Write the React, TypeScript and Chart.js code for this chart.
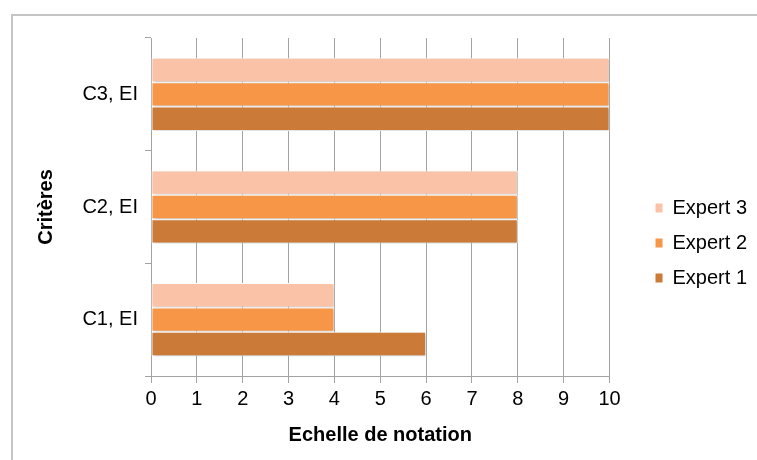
import { useEffect, useRef } from 'react';
import { Chart, registerables } from 'chart.js';

Chart.register(...registerables);

const categories = ['C1, EI', 'C2, EI', 'C3, EI'];
const expert3 = [4, 8, 10];
const expert2 = [4, 8, 10];
const expert1 = [6, 8, 10];
const seriesNames = ['Expert 3', 'Expert 2', 'Expert 1'];
const seriesColors = ['#FAC3A7', '#F79646', '#CC7A37'];
const xMin = 0;
const xMax = 10;
const xTitle = 'Echelle de notation';
const yTitle = 'Critères';

const FONT = "'Liberation Sans', Arial, sans-serif";
const GRID = '#a3a3a3';

const shadowPlugin = {
  id: 'barShadow',
  beforeDatasetsDraw(chart: any) {
    const c = chart.ctx;
    c.save();
    c.shadowColor = 'rgba(0,0,0,0.22)';
    c.shadowBlur = 3;
    c.shadowOffsetX = 1;
    c.shadowOffsetY = 1.5;
  },
  afterDatasetsDraw(chart: any) {
    chart.ctx.restore();
  },
};

export default function App() {
  const ref = useRef<HTMLCanvasElement | null>(null);

  useEffect(() => {
    if (!ref.current) return;
    const values = [expert3, expert2, expert1];
    const chart = new Chart(ref.current, {
      type: 'bar',
      data: {
        labels: categories,
        datasets: seriesNames.map((name, i) => ({
          label: name,
          data: values[i],
          backgroundColor: seriesColors[i],
          borderColor: '#ffffff',
          borderWidth: 1,
          borderSkipped: false,
          categoryPercentage: 0.65,
          barPercentage: 1.0,
        })),
      },
      options: {
        indexAxis: 'y',
        animation: false,
        responsive: false,
        maintainAspectRatio: false,
        devicePixelRatio: 1,
        layout: { padding: { left: 0, top: 38, right: 23, bottom: 12 } },
        plugins: {
          legend: {
            position: 'right',
            align: 'center',
            labels: {
              boxWidth: 7,
              boxHeight: 9,
              padding: 15,
              color: '#000',
              font: { family: FONT, size: 20 },
              generateLabels: (ch: any) =>
                (Chart.defaults.plugins.legend.labels as any)
                  .generateLabels(ch)
                  .map((l: any) => ({ ...l, lineWidth: 0, strokeStyle: 'rgba(0,0,0,0)' })),
            },
          },
          tooltip: { enabled: false },
        },
        scales: {
          x: {
            type: 'linear',
            min: xMin,
            max: xMax,
            ticks: { stepSize: 1, color: '#000', padding: 4, font: { family: FONT, size: 20 } },
            grid: { color: GRID, drawOnChartArea: true, drawTicks: true, tickLength: 7, lineWidth: 1 },
            border: { display: true, color: GRID, width: 1 },
            title: {
              display: true,
              text: xTitle,
              color: '#000',
              font: { family: FONT, size: 20, weight: 'bold' },
              padding: { top: 0, bottom: 1 },
            },
            afterFit: (s: any) => {
              s.height = 72;
            },
          },
          y: {
            type: 'category',
            reverse: true,
            ticks: { color: '#000', padding: 7, font: { family: FONT, size: 20 } },
            grid: { color: GRID, offset: true, drawOnChartArea: false, drawTicks: true, tickLength: 6 },
            border: { display: true, color: GRID, width: 1 },
            title: {
              display: true,
              text: yTitle,
              color: '#000',
              font: { family: FONT, size: 20, weight: 'bold' },
              padding: { top: 34, bottom: 0 },
            },
            afterFit: (s: any) => {
              s.width = 151;
            },
          },
          pad: {
            type: 'linear',
            position: 'right',
            display: true,
            grid: { display: false },
            border: { display: false },
            ticks: { display: false },
            afterFit: (s: any) => {
              s.width = 31;
            },
          },
        },
      } as any,
      plugins: [shadowPlugin],
    });
    return () => chart.destroy();
  }, []);

  return (
    <div
      style={{
        position: 'fixed',
        left: 0,
        top: 0,
        width: 757,
        height: 460,
        overflow: 'hidden',
        background: '#fff',
      }}
    >
      <div
        style={{
          position: 'absolute',
          left: 11,
          top: 14,
          width: 900,
          height: 600,
          borderTop: '2px solid #c4c4c4',
          borderLeft: '2px solid #c4c4c4',
        }}
      />
      <canvas
        ref={ref}
        width={780}
        height={460}
        style={{ position: 'absolute', left: 0, top: 0, width: 780, height: 460 }}
      />
    </div>
  );
}
